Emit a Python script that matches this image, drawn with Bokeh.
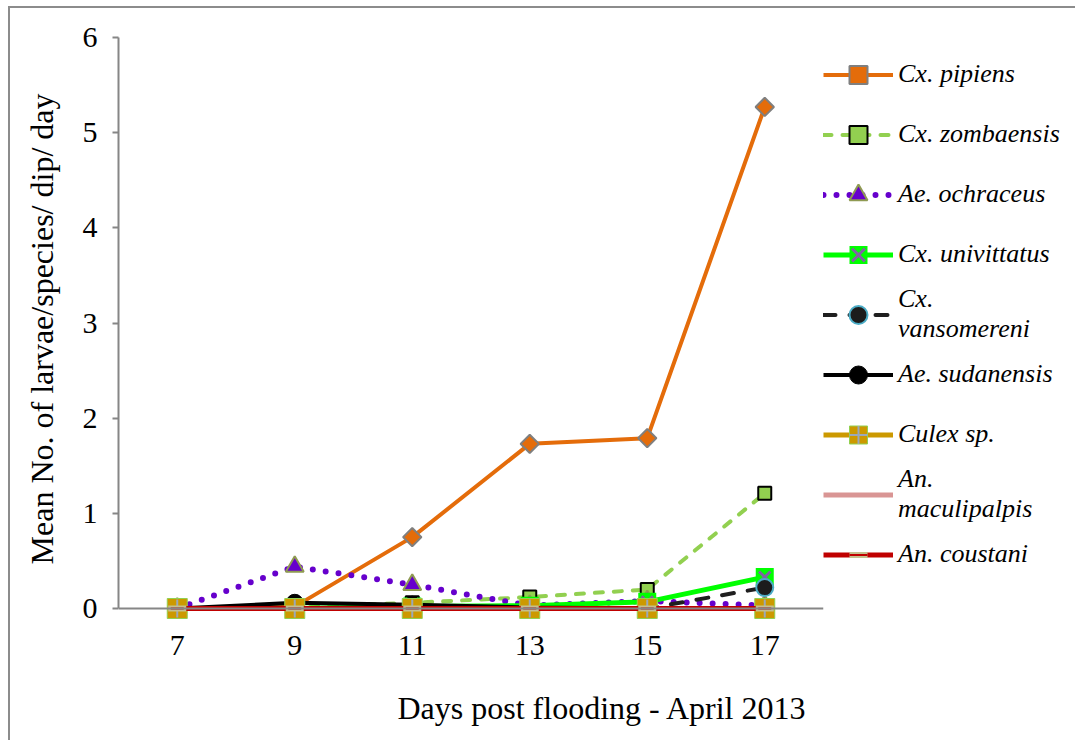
from bokeh.plotting import figure
from bokeh.models import Legend, LegendItem, FixedTicker, Title, LinearAxis
from bokeh.embed import file_html
from bokeh.resources import INLINE

days = [7, 9, 11, 13, 15, 17]
series_names = ["Cx. pipiens", "Cx. zombaensis", "Ae. ochraceus", "Cx. univittatus",
                "Cx.\nvansomereni", "Ae. sudanensis", "Culex sp.", "An.\nmaculipalpis", "An. coustani"]
cx_pipiens = [0.0, 0.02, 0.75, 1.73, 1.79, 5.27]
cx_zombaensis = [0.0, 0.01, 0.06, 0.12, 0.20, 1.21]
ae_ochraceus = [0.0, 0.44, 0.25, 0.03, 0.08, 0.03]
cx_univittatus = [0.0, 0.0, 0.02, 0.03, 0.07, 0.33]
cx_vansomereni = [0.0, 0.0, 0.0, 0.0, 0.0, 0.22]
ae_sudanensis = [0.0, 0.06, 0.04, 0.01, 0.0, 0.0]
culex_sp = [0.0, 0.0, 0.0, 0.0, 0.0, 0.0]
an_maculipalpis = [0.0, 0.0, 0.0, 0.0, 0.0, 0.0]
an_coustani = [0.0, 0.0, 0.0, 0.0, 0.0, 0.0]
y_ticks = [0, 1, 2, 3, 4, 5, 6]
x_title = "Days post flooding - April 2013"
y_title = "Mean No. of larvae/species/ dip/ day"

SERIF = "Liberation Serif"
AXIS_GRAY = "#868686"

p = figure(frame_width=705, frame_height=583, x_range=(6, 18), y_range=(-0.126, 6),
           output_backend="svg", toolbar_location=None,
           min_border_left=108, min_border_right=0, min_border_top=29, min_border_bottom=120)
p.styles = {"border-left": "2px solid #8c8c8c", "border-top": "2px solid #8c8c8c",
            "margin-left": "8px", "margin-top": "6px"}
p.outline_line_color = None
p.grid.visible = False
p.background_fill_color = "white"
p.border_fill_color = "white"

# y axis
yax = p.yaxis[0]
yax.ticker = FixedTicker(ticks=y_ticks)
yax.bounds = (0, 6)
yax.axis_line_color = AXIS_GRAY
yax.axis_line_width = 2
yax.major_tick_line_color = AXIS_GRAY
yax.major_tick_line_width = 2
yax.minor_tick_line_color = None
yax.major_tick_out = 6
yax.major_tick_in = 0
yax.major_label_text_font = SERIF
yax.major_label_text_font_size = "30px"
yax.major_label_text_color = "black"
yax.major_label_standoff = 15
yax.axis_label = y_title
yax.axis_label_text_font = SERIF
yax.axis_label_text_font_size = "32px"
yax.axis_label_text_font_style = "normal"
yax.axis_label_text_color = "black"
yax.axis_label_standoff = 20

# x axis line at y = 0
xax = p.xaxis[0]
xax.fixed_location = 0
xax.ticker = FixedTicker(ticks=days)
xax.axis_line_color = AXIS_GRAY
xax.axis_line_width = 2
xax.major_tick_line_color = None
xax.minor_tick_line_color = None
xax.major_label_text_color = None

# x tick labels below the frame
xlab = LinearAxis(ticker=FixedTicker(ticks=days), axis_line_color=None,
                  major_tick_line_color=None, minor_tick_line_color=None,
                  major_label_text_font=SERIF, major_label_text_font_size="30px",
                  major_label_text_color="black", major_label_standoff=9)
p.add_layout(xlab, "below")

p.add_layout(Title(text=x_title, align="left", offset=279, text_font=SERIF,
                   text_font_size="32px", text_font_style="normal", text_color="black",
                   standoff=61), "below")

items = []

# Cx. pipiens
r1 = p.line(days, cx_pipiens, line_color="#e46c0a", line_width=4)
r2 = p.scatter(days, cx_pipiens, marker="square", angle=0.785398, size=13,
               fill_color="#e46c0a", line_color="#7f7f7f", line_width=2)
items.append(LegendItem(label=series_names[0], renderers=[r1, r2]))

# Cx. zombaensis
r1 = p.line(days, cx_zombaensis, line_color="#92d050", line_width=4, line_dash="8 11", line_cap="round")
r2 = p.scatter(days, cx_zombaensis, marker="square", size=13,
               fill_color="#92d050", line_color="black", line_width=2)
items.append(LegendItem(label=series_names[1], renderers=[r1, r2]))

# Ae. ochraceus
r1 = p.line(days, ae_ochraceus, line_color="#6600cc", line_width=6, line_dash="0 13", line_cap="round")
r2 = p.scatter(days, ae_ochraceus, marker="triangle", size=18,
               fill_color="#6600cc", line_color="#8f9a52", line_width=2)
items.append(LegendItem(label=series_names[2], renderers=[r1, r2]))

# Cx. univittatus
r1 = p.line(days, cx_univittatus, line_color="#00ff00", line_width=5)
r2 = p.scatter(days, cx_univittatus, marker="square", size=18, fill_color="#00ff00", line_color=None)
r3 = p.scatter(days, cx_univittatus, marker="x", size=16, line_color="#8064a2", line_width=3)
items.append(LegendItem(label=series_names[3], renderers=[r1, r2, r3]))

# Cx. vansomereni
r1 = p.line(days, cx_vansomereni, line_color="#1f1f1f", line_width=4, line_dash="12 14", line_cap="round")
r2 = p.scatter(days, cx_vansomereni, marker="circle", size=17,
               fill_color="#1c1c1c", line_color="#4bacc6", line_width=2)
items.append(LegendItem(label=series_names[4], renderers=[r1, r2]))

# Ae. sudanensis
r1 = p.line(days, ae_sudanensis, line_color="black", line_width=4)
r2 = p.scatter(days, ae_sudanensis, marker="circle", size=17, fill_color="black", line_color="black")
items.append(LegendItem(label=series_names[5], renderers=[r1, r2]))

# Culex sp.
r1 = p.line(days, culex_sp, line_color="#cc9900", line_width=5)
r2 = p.scatter(days, culex_sp, marker="square", size=20, fill_color="#cc9900", line_color="#92d050", line_width=1)
r3 = p.scatter(days, culex_sp, marker="cross", size=18, line_color="#9aa8ba", line_width=2)
items.append(LegendItem(label=series_names[6], renderers=[r1, r2, r3]))

# An. maculipalpis
r1 = p.line(days, an_maculipalpis, line_color="#d99594", line_width=5)
items.append(LegendItem(label=series_names[7], renderers=[r1]))

# An. coustani
r1 = p.line(days, an_coustani, line_color="#c00000", line_width=5)
r2 = p.scatter(days, an_coustani, marker="dash", size=18, line_color="#c4c08e", line_width=6)
r3 = p.scatter(days, an_coustani, marker="dash", size=13, line_color="#c00000", line_width=2)
items.append(LegendItem(label=series_names[8], renderers=[r1, r2, r3]))

legend = Legend(items=items, location=(0, 36), orientation="vertical",
                glyph_width=70, glyph_height=45, label_height=60, spacing=0,
                padding=0, margin=0, label_standoff=5,
                label_text_font=SERIF, label_text_font_style="italic",
                label_text_font_size="26px", label_text_color="black",
                border_line_color=None, background_fill_alpha=0)
p.add_layout(legend, "right")

open("out.html", "w").write(file_html(p, INLINE))
